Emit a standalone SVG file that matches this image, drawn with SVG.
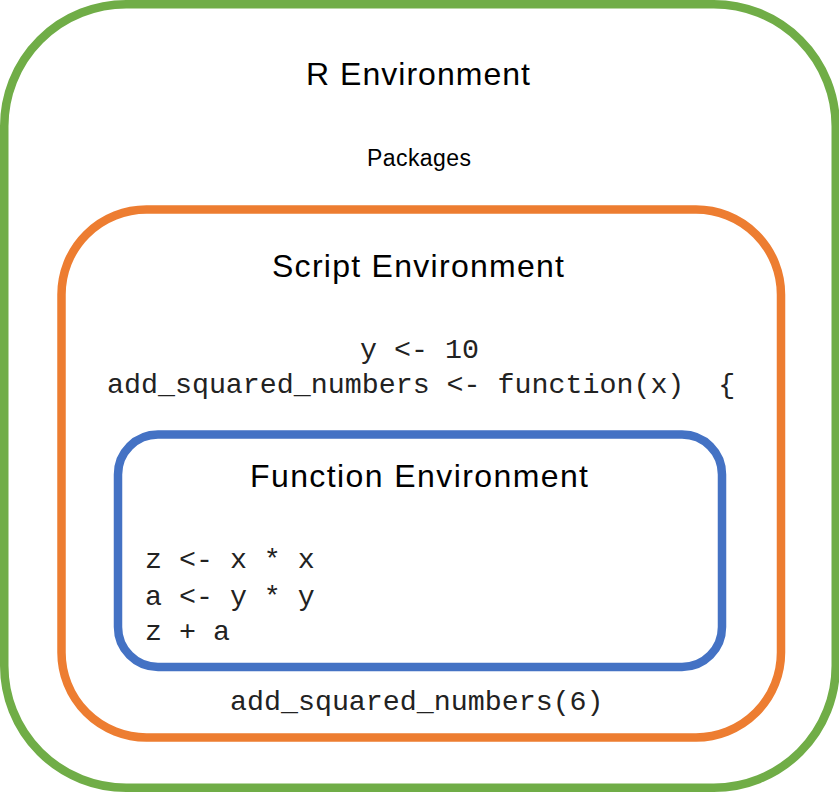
<svg xmlns="http://www.w3.org/2000/svg" width="839" height="792" viewBox="0 0 839 792">
<style>
.box{fill:none;stroke-width:8.5}
.title{font-family:"Liberation Sans",Arial,sans-serif;font-size:32px;fill:#000;text-anchor:middle}
.sub{font-family:"Liberation Sans",Arial,sans-serif;font-size:23px;fill:#000;text-anchor:middle}
.code{font-family:"Liberation Mono","Courier New",monospace;font-size:28.3px;fill:#222;white-space:pre}
</style>
<rect width="839" height="792" fill="#fff"/>
<g id="r-environment">
<rect class="box" x="4.25" y="4.25" width="831.5" height="783.5" rx="122" ry="122" stroke="#70AD47"/>
<text class="title" x="418" y="85" textLength="224">R Environment</text>
<text class="sub" x="419" y="166" textLength="104">Packages</text>
</g>
<g id="script-environment">
<rect class="box" x="61.5" y="209.5" width="719.5" height="528" rx="85" ry="85" stroke="#ED7D31"/>
<text class="title" x="418" y="277" textLength="292">Script Environment</text>
<text class="code" x="360" y="358">y &lt;- 10</text>
<text class="code" x="107" y="393" xml:space="preserve">add_squared_numbers &lt;- function(x)  {</text>
<text class="code" x="230" y="710">add_squared_numbers(6)</text>
</g>
<g id="function-environment">
<rect class="box" x="118" y="434.5" width="604" height="232.5" rx="40" ry="40" stroke="#4472C4"/>
<text class="title" x="419" y="487" textLength="338">Function Environment</text>
<text class="code" x="145" y="568" xml:space="preserve">z &lt;- x * x</text>
<text class="code" x="145" y="605" xml:space="preserve">a &lt;- y * y</text>
<text class="code" x="145" y="640" xml:space="preserve">z + a</text>
</g>
<g id="connectors"></g>
</svg>
